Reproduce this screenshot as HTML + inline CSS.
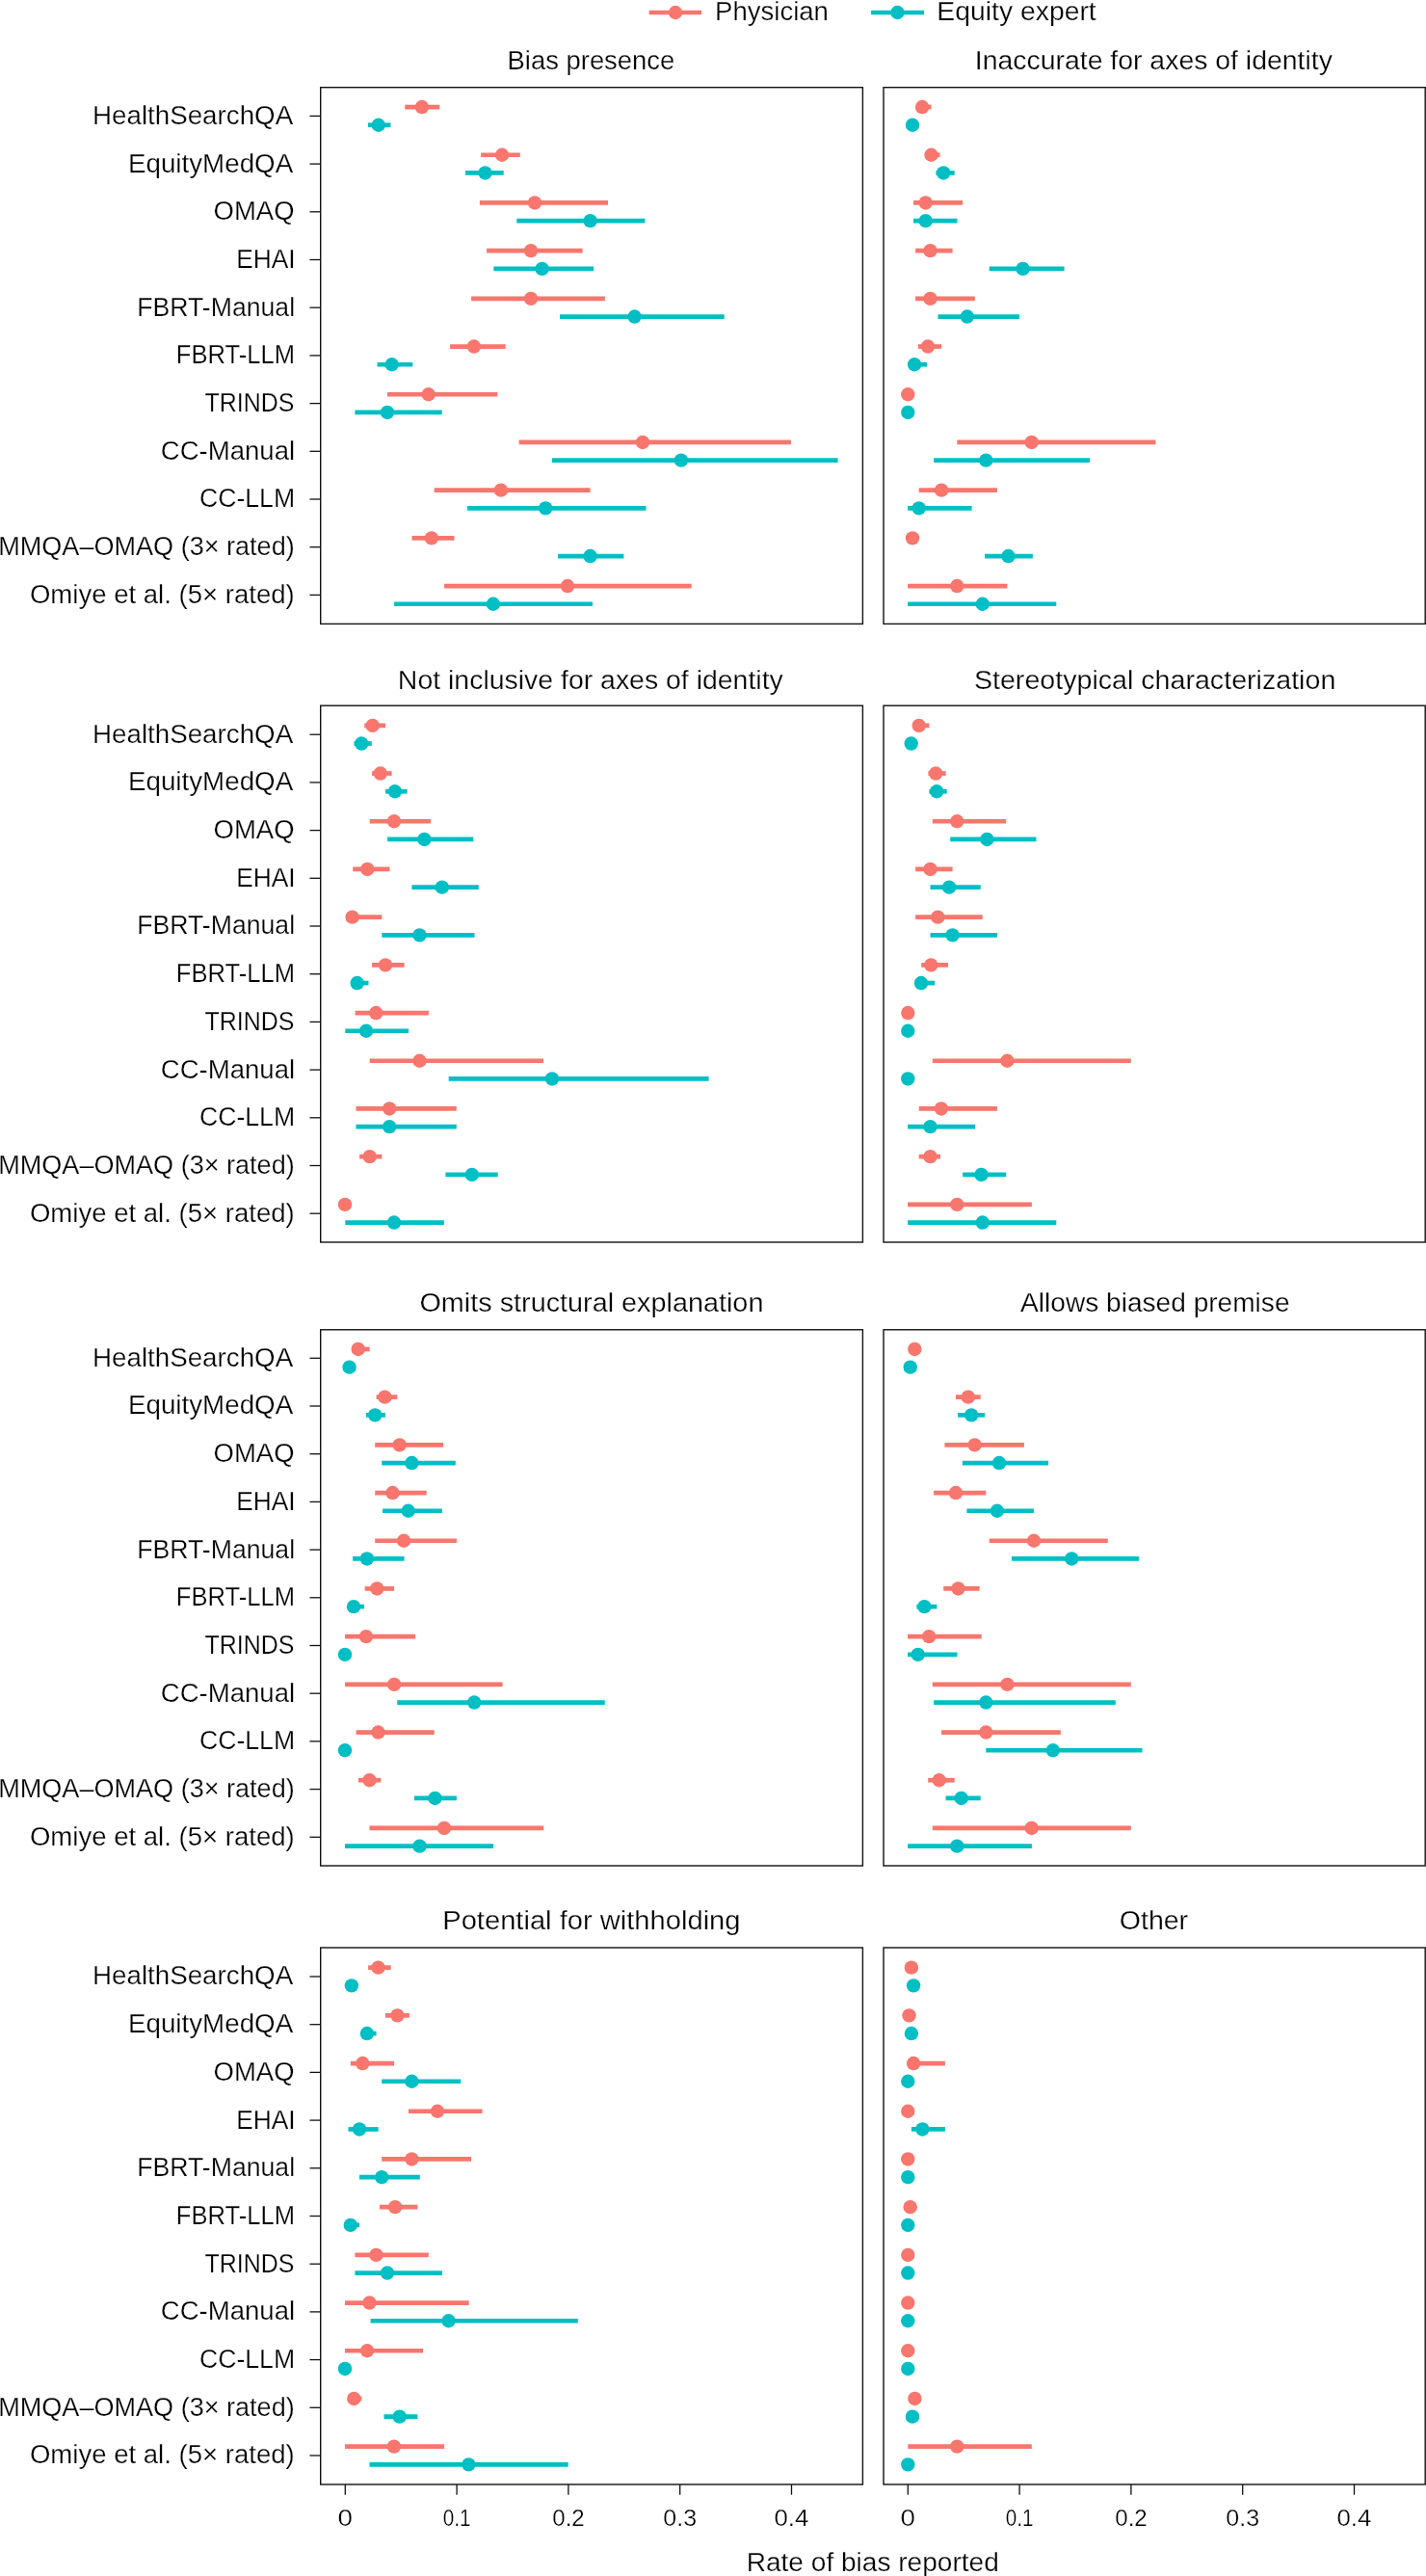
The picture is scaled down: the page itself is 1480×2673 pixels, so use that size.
<!DOCTYPE html>
<html><head><meta charset="utf-8"><style>
html,body{margin:0;padding:0;background:#fff;overflow:hidden;}
svg{display:block;will-change:transform;}
</style></head><body>
<svg width="1480" height="2673" viewBox="0 0 1480 2673" font-family="Liberation Sans, sans-serif" fill="#000">
<style>text{stroke:#fff;stroke-width:0.25px;paint-order:normal;}</style>
<rect width="1480" height="2673" fill="#fff"/>
<text x="742.05" y="21.00" font-size="27" textLength="117.90" lengthAdjust="spacingAndGlyphs">Physician</text>
<text x="972.39" y="21.00" font-size="27" textLength="165.32" lengthAdjust="spacingAndGlyphs">Equity expert</text>
<text x="526.56" y="72.30" font-size="27" textLength="173.75" lengthAdjust="spacingAndGlyphs">Bias presence</text>
<text x="1011.78" y="72.30" font-size="27" textLength="371.12" lengthAdjust="spacingAndGlyphs">Inaccurate for axes of identity</text>
<text x="412.88" y="714.70" font-size="27" textLength="399.92" lengthAdjust="spacingAndGlyphs">Not inclusive for axes of identity</text>
<text x="1010.91" y="714.70" font-size="27" textLength="375.40" lengthAdjust="spacingAndGlyphs">Stereotypical characterization</text>
<text x="435.45" y="1360.90" font-size="27" textLength="356.97" lengthAdjust="spacingAndGlyphs">Omits structural explanation</text>
<text x="1059.10" y="1360.90" font-size="27" textLength="279.44" lengthAdjust="spacingAndGlyphs">Allows biased premise</text>
<text x="459.22" y="2002.00" font-size="27" textLength="309.31" lengthAdjust="spacingAndGlyphs">Potential for withholding</text>
<text x="1161.76" y="2002.00" font-size="27" textLength="71.38" lengthAdjust="spacingAndGlyphs">Other</text>
<text x="96.03" y="128.80" font-size="27" textLength="208.13" lengthAdjust="spacingAndGlyphs">HealthSearchQA</text>
<text x="133.03" y="178.50" font-size="27" textLength="171.13" lengthAdjust="spacingAndGlyphs">EquityMedQA</text>
<text x="221.61" y="228.20" font-size="27" textLength="83.88" lengthAdjust="spacingAndGlyphs">OMAQ</text>
<text x="245.24" y="277.90" font-size="27" textLength="61.43" lengthAdjust="spacingAndGlyphs">EHAI</text>
<text x="142.22" y="327.60" font-size="27" textLength="163.84" lengthAdjust="spacingAndGlyphs">FBRT-Manual</text>
<text x="182.80" y="377.30" font-size="27" textLength="123.22" lengthAdjust="spacingAndGlyphs">FBRT-LLM</text>
<text x="212.51" y="427.00" font-size="27" textLength="92.84" lengthAdjust="spacingAndGlyphs">TRINDS</text>
<text x="166.81" y="476.70" font-size="27" textLength="139.31" lengthAdjust="spacingAndGlyphs">CC-Manual</text>
<text x="206.95" y="526.40" font-size="27" textLength="99.14" lengthAdjust="spacingAndGlyphs">CC-LLM</text>
<text x="-1.81" y="576.10" font-size="27" textLength="307.51" lengthAdjust="spacingAndGlyphs">MMQA–OMAQ (3× rated)</text>
<text x="30.91" y="625.80" font-size="27" textLength="274.82" lengthAdjust="spacingAndGlyphs">Omiye et al. (5× rated)</text>
<text x="96.03" y="770.60" font-size="27" textLength="208.13" lengthAdjust="spacingAndGlyphs">HealthSearchQA</text>
<text x="133.03" y="820.30" font-size="27" textLength="171.13" lengthAdjust="spacingAndGlyphs">EquityMedQA</text>
<text x="221.61" y="870.00" font-size="27" textLength="83.88" lengthAdjust="spacingAndGlyphs">OMAQ</text>
<text x="245.24" y="919.70" font-size="27" textLength="61.43" lengthAdjust="spacingAndGlyphs">EHAI</text>
<text x="142.22" y="969.40" font-size="27" textLength="163.84" lengthAdjust="spacingAndGlyphs">FBRT-Manual</text>
<text x="182.80" y="1019.10" font-size="27" textLength="123.22" lengthAdjust="spacingAndGlyphs">FBRT-LLM</text>
<text x="212.51" y="1068.80" font-size="27" textLength="92.84" lengthAdjust="spacingAndGlyphs">TRINDS</text>
<text x="166.81" y="1118.50" font-size="27" textLength="139.31" lengthAdjust="spacingAndGlyphs">CC-Manual</text>
<text x="206.95" y="1168.20" font-size="27" textLength="99.14" lengthAdjust="spacingAndGlyphs">CC-LLM</text>
<text x="-1.81" y="1217.90" font-size="27" textLength="307.51" lengthAdjust="spacingAndGlyphs">MMQA–OMAQ (3× rated)</text>
<text x="30.91" y="1267.60" font-size="27" textLength="274.82" lengthAdjust="spacingAndGlyphs">Omiye et al. (5× rated)</text>
<text x="96.03" y="1417.70" font-size="27" textLength="208.13" lengthAdjust="spacingAndGlyphs">HealthSearchQA</text>
<text x="133.03" y="1467.40" font-size="27" textLength="171.13" lengthAdjust="spacingAndGlyphs">EquityMedQA</text>
<text x="221.61" y="1517.10" font-size="27" textLength="83.88" lengthAdjust="spacingAndGlyphs">OMAQ</text>
<text x="245.24" y="1566.80" font-size="27" textLength="61.43" lengthAdjust="spacingAndGlyphs">EHAI</text>
<text x="142.22" y="1616.50" font-size="27" textLength="163.84" lengthAdjust="spacingAndGlyphs">FBRT-Manual</text>
<text x="182.80" y="1666.20" font-size="27" textLength="123.22" lengthAdjust="spacingAndGlyphs">FBRT-LLM</text>
<text x="212.51" y="1715.90" font-size="27" textLength="92.84" lengthAdjust="spacingAndGlyphs">TRINDS</text>
<text x="166.81" y="1765.60" font-size="27" textLength="139.31" lengthAdjust="spacingAndGlyphs">CC-Manual</text>
<text x="206.95" y="1815.30" font-size="27" textLength="99.14" lengthAdjust="spacingAndGlyphs">CC-LLM</text>
<text x="-1.81" y="1865.00" font-size="27" textLength="307.51" lengthAdjust="spacingAndGlyphs">MMQA–OMAQ (3× rated)</text>
<text x="30.91" y="1914.70" font-size="27" textLength="274.82" lengthAdjust="spacingAndGlyphs">Omiye et al. (5× rated)</text>
<text x="96.03" y="2059.40" font-size="27" textLength="208.13" lengthAdjust="spacingAndGlyphs">HealthSearchQA</text>
<text x="133.03" y="2109.10" font-size="27" textLength="171.13" lengthAdjust="spacingAndGlyphs">EquityMedQA</text>
<text x="221.61" y="2158.80" font-size="27" textLength="83.88" lengthAdjust="spacingAndGlyphs">OMAQ</text>
<text x="245.24" y="2208.50" font-size="27" textLength="61.43" lengthAdjust="spacingAndGlyphs">EHAI</text>
<text x="142.22" y="2258.20" font-size="27" textLength="163.84" lengthAdjust="spacingAndGlyphs">FBRT-Manual</text>
<text x="182.80" y="2307.90" font-size="27" textLength="123.22" lengthAdjust="spacingAndGlyphs">FBRT-LLM</text>
<text x="212.51" y="2357.60" font-size="27" textLength="92.84" lengthAdjust="spacingAndGlyphs">TRINDS</text>
<text x="166.81" y="2407.30" font-size="27" textLength="139.31" lengthAdjust="spacingAndGlyphs">CC-Manual</text>
<text x="206.95" y="2457.00" font-size="27" textLength="99.14" lengthAdjust="spacingAndGlyphs">CC-LLM</text>
<text x="-1.81" y="2506.70" font-size="27" textLength="307.51" lengthAdjust="spacingAndGlyphs">MMQA–OMAQ (3× rated)</text>
<text x="30.91" y="2556.40" font-size="27" textLength="274.82" lengthAdjust="spacingAndGlyphs">Omiye et al. (5× rated)</text>
<text x="350.63" y="2621.00" font-size="23" textLength="15.44" lengthAdjust="spacingAndGlyphs">0</text>
<text x="459.83" y="2621.00" font-size="23" textLength="28.80" lengthAdjust="spacingAndGlyphs">0.1</text>
<text x="573.31" y="2621.00" font-size="23" textLength="33.48" lengthAdjust="spacingAndGlyphs">0.2</text>
<text x="688.38" y="2621.00" font-size="23" textLength="34.85" lengthAdjust="spacingAndGlyphs">0.3</text>
<text x="803.45" y="2621.00" font-size="23" textLength="35.86" lengthAdjust="spacingAndGlyphs">0.4</text>
<text x="934.63" y="2621.00" font-size="23" textLength="15.44" lengthAdjust="spacingAndGlyphs">0</text>
<text x="1043.83" y="2621.00" font-size="23" textLength="28.80" lengthAdjust="spacingAndGlyphs">0.1</text>
<text x="1157.31" y="2621.00" font-size="23" textLength="33.48" lengthAdjust="spacingAndGlyphs">0.2</text>
<text x="1272.38" y="2621.00" font-size="23" textLength="34.85" lengthAdjust="spacingAndGlyphs">0.3</text>
<text x="1387.45" y="2621.00" font-size="23" textLength="35.86" lengthAdjust="spacingAndGlyphs">0.4</text>
<text x="774.71" y="2667.90" font-size="27" textLength="262.07" lengthAdjust="spacingAndGlyphs">Rate of bias reported</text>
<line x1="673.7" y1="13" x2="728" y2="13" stroke="#F8766D" stroke-width="4.7"/>
<circle cx="701" cy="13" r="7.2" fill="#F8766D"/>
<line x1="904.1" y1="13" x2="959" y2="13" stroke="#00BFC4" stroke-width="4.7"/>
<circle cx="931.4" cy="13" r="7.2" fill="#00BFC4"/>
<rect x="332.7" y="90.7" width="562.7" height="556.7" fill="none" stroke="#111" stroke-width="1.4"/>
<line x1="321.5" y1="120.4" x2="332.7" y2="120.4" stroke="#111" stroke-width="1.3"/>
<line x1="321.5" y1="170.1" x2="332.7" y2="170.1" stroke="#111" stroke-width="1.3"/>
<line x1="321.5" y1="219.8" x2="332.7" y2="219.8" stroke="#111" stroke-width="1.3"/>
<line x1="321.5" y1="269.5" x2="332.7" y2="269.5" stroke="#111" stroke-width="1.3"/>
<line x1="321.5" y1="319.2" x2="332.7" y2="319.2" stroke="#111" stroke-width="1.3"/>
<line x1="321.5" y1="368.9" x2="332.7" y2="368.9" stroke="#111" stroke-width="1.3"/>
<line x1="321.5" y1="418.6" x2="332.7" y2="418.6" stroke="#111" stroke-width="1.3"/>
<line x1="321.5" y1="468.3" x2="332.7" y2="468.3" stroke="#111" stroke-width="1.3"/>
<line x1="321.5" y1="518.0" x2="332.7" y2="518.0" stroke="#111" stroke-width="1.3"/>
<line x1="321.5" y1="567.7" x2="332.7" y2="567.7" stroke="#111" stroke-width="1.3"/>
<line x1="321.5" y1="617.4" x2="332.7" y2="617.4" stroke="#111" stroke-width="1.3"/>
<line x1="420.3" y1="111.05" x2="456.3" y2="111.05" stroke="#F8766D" stroke-width="4.7"/>
<circle cx="437.9" cy="111.05" r="7.2" fill="#F8766D"/>
<line x1="499.1" y1="160.75" x2="539.8" y2="160.75" stroke="#F8766D" stroke-width="4.7"/>
<circle cx="521.1" cy="160.75" r="7.2" fill="#F8766D"/>
<line x1="497.9" y1="210.45" x2="631.0" y2="210.45" stroke="#F8766D" stroke-width="4.7"/>
<circle cx="555.0" cy="210.45" r="7.2" fill="#F8766D"/>
<line x1="505.1" y1="260.15" x2="604.6" y2="260.15" stroke="#F8766D" stroke-width="4.7"/>
<circle cx="551.0" cy="260.15" r="7.2" fill="#F8766D"/>
<line x1="489.1" y1="309.85" x2="627.8" y2="309.85" stroke="#F8766D" stroke-width="4.7"/>
<circle cx="551.0" cy="309.85" r="7.2" fill="#F8766D"/>
<line x1="467.1" y1="359.55" x2="524.7" y2="359.55" stroke="#F8766D" stroke-width="4.7"/>
<circle cx="491.9" cy="359.55" r="7.2" fill="#F8766D"/>
<line x1="402.0" y1="409.25" x2="516.3" y2="409.25" stroke="#F8766D" stroke-width="4.7"/>
<circle cx="444.7" cy="409.25" r="7.2" fill="#F8766D"/>
<line x1="538.6" y1="458.95" x2="820.9" y2="458.95" stroke="#F8766D" stroke-width="4.7"/>
<circle cx="667.0" cy="458.95" r="7.2" fill="#F8766D"/>
<line x1="450.7" y1="508.65" x2="612.6" y2="508.65" stroke="#F8766D" stroke-width="4.7"/>
<circle cx="519.9" cy="508.65" r="7.2" fill="#F8766D"/>
<line x1="427.5" y1="558.35" x2="471.5" y2="558.35" stroke="#F8766D" stroke-width="4.7"/>
<circle cx="447.9" cy="558.35" r="7.2" fill="#F8766D"/>
<line x1="461.1" y1="608.05" x2="717.7" y2="608.05" stroke="#F8766D" stroke-width="4.7"/>
<circle cx="589.0" cy="608.05" r="7.2" fill="#F8766D"/>
<line x1="382.0" y1="129.75" x2="405.5" y2="129.75" stroke="#00BFC4" stroke-width="4.7"/>
<circle cx="392.8" cy="129.75" r="7.2" fill="#00BFC4"/>
<line x1="483.1" y1="179.45" x2="522.7" y2="179.45" stroke="#00BFC4" stroke-width="4.7"/>
<circle cx="503.5" cy="179.45" r="7.2" fill="#00BFC4"/>
<line x1="536.3" y1="229.15" x2="669.4" y2="229.15" stroke="#00BFC4" stroke-width="4.7"/>
<circle cx="612.6" cy="229.15" r="7.2" fill="#00BFC4"/>
<line x1="512.3" y1="278.85" x2="616.2" y2="278.85" stroke="#00BFC4" stroke-width="4.7"/>
<circle cx="562.6" cy="278.85" r="7.2" fill="#00BFC4"/>
<line x1="581.0" y1="328.55" x2="751.7" y2="328.55" stroke="#00BFC4" stroke-width="4.7"/>
<circle cx="658.6" cy="328.55" r="7.2" fill="#00BFC4"/>
<line x1="391.6" y1="378.25" x2="428.3" y2="378.25" stroke="#00BFC4" stroke-width="4.7"/>
<circle cx="406.7" cy="378.25" r="7.2" fill="#00BFC4"/>
<line x1="368.4" y1="427.95" x2="458.7" y2="427.95" stroke="#00BFC4" stroke-width="4.7"/>
<circle cx="402.0" cy="427.95" r="7.2" fill="#00BFC4"/>
<line x1="573.0" y1="477.65" x2="869.6" y2="477.65" stroke="#00BFC4" stroke-width="4.7"/>
<circle cx="706.9" cy="477.65" r="7.2" fill="#00BFC4"/>
<line x1="485.1" y1="527.35" x2="670.6" y2="527.35" stroke="#00BFC4" stroke-width="4.7"/>
<circle cx="566.2" cy="527.35" r="7.2" fill="#00BFC4"/>
<line x1="579.0" y1="577.05" x2="647.4" y2="577.05" stroke="#00BFC4" stroke-width="4.7"/>
<circle cx="612.6" cy="577.05" r="7.2" fill="#00BFC4"/>
<line x1="409.1" y1="626.75" x2="615.0" y2="626.75" stroke="#00BFC4" stroke-width="4.7"/>
<circle cx="511.9" cy="626.75" r="7.2" fill="#00BFC4"/>
<rect x="917.0" y="90.7" width="562.2" height="556.7" fill="none" stroke="#111" stroke-width="1.4"/>
<line x1="952" y1="111.05" x2="966.5" y2="111.05" stroke="#F8766D" stroke-width="4.7"/>
<circle cx="957.1" cy="111.05" r="7.2" fill="#F8766D"/>
<line x1="960" y1="160.75" x2="975.6" y2="160.75" stroke="#F8766D" stroke-width="4.7"/>
<circle cx="966.5" cy="160.75" r="7.2" fill="#F8766D"/>
<line x1="948.0" y1="210.45" x2="999.2" y2="210.45" stroke="#F8766D" stroke-width="4.7"/>
<circle cx="960.7" cy="210.45" r="7.2" fill="#F8766D"/>
<line x1="950.1" y1="260.15" x2="988.6" y2="260.15" stroke="#F8766D" stroke-width="4.7"/>
<circle cx="965.5" cy="260.15" r="7.2" fill="#F8766D"/>
<line x1="950.1" y1="309.85" x2="1011.8" y2="309.85" stroke="#F8766D" stroke-width="4.7"/>
<circle cx="965.5" cy="309.85" r="7.2" fill="#F8766D"/>
<line x1="952.9" y1="359.55" x2="977.1" y2="359.55" stroke="#F8766D" stroke-width="4.7"/>
<circle cx="963.0" cy="359.55" r="7.2" fill="#F8766D"/>
<circle cx="942.3" cy="409.25" r="7.2" fill="#F8766D"/>
<line x1="993.3" y1="458.95" x2="1199.4" y2="458.95" stroke="#F8766D" stroke-width="4.7"/>
<circle cx="1070.7" cy="458.95" r="7.2" fill="#F8766D"/>
<line x1="953.7" y1="508.65" x2="1034.9" y2="508.65" stroke="#F8766D" stroke-width="4.7"/>
<circle cx="977.1" cy="508.65" r="7.2" fill="#F8766D"/>
<circle cx="947.0" cy="558.35" r="7.2" fill="#F8766D"/>
<line x1="942.1" y1="608.05" x2="1045.4" y2="608.05" stroke="#F8766D" stroke-width="4.7"/>
<circle cx="993.3" cy="608.05" r="7.2" fill="#F8766D"/>
<circle cx="947.0" cy="129.75" r="7.2" fill="#00BFC4"/>
<line x1="971.4" y1="179.45" x2="990.7" y2="179.45" stroke="#00BFC4" stroke-width="4.7"/>
<circle cx="979.2" cy="179.45" r="7.2" fill="#00BFC4"/>
<line x1="948.0" y1="229.15" x2="993.5" y2="229.15" stroke="#00BFC4" stroke-width="4.7"/>
<circle cx="960.7" cy="229.15" r="7.2" fill="#00BFC4"/>
<line x1="1026.7" y1="278.85" x2="1104.6" y2="278.85" stroke="#00BFC4" stroke-width="4.7"/>
<circle cx="1061.6" cy="278.85" r="7.2" fill="#00BFC4"/>
<line x1="973.5" y1="328.55" x2="1058.1" y2="328.55" stroke="#00BFC4" stroke-width="4.7"/>
<circle cx="1003.8" cy="328.55" r="7.2" fill="#00BFC4"/>
<line x1="945" y1="378.25" x2="962.1" y2="378.25" stroke="#00BFC4" stroke-width="4.7"/>
<circle cx="949.1" cy="378.25" r="7.2" fill="#00BFC4"/>
<circle cx="942.3" cy="427.95" r="7.2" fill="#00BFC4"/>
<line x1="969.1" y1="477.65" x2="1131.1" y2="477.65" stroke="#00BFC4" stroke-width="4.7"/>
<circle cx="1023.3" cy="477.65" r="7.2" fill="#00BFC4"/>
<line x1="942.1" y1="527.35" x2="1008.6" y2="527.35" stroke="#00BFC4" stroke-width="4.7"/>
<circle cx="953.7" cy="527.35" r="7.2" fill="#00BFC4"/>
<line x1="1022.1" y1="577.05" x2="1071.9" y2="577.05" stroke="#00BFC4" stroke-width="4.7"/>
<circle cx="1046.5" cy="577.05" r="7.2" fill="#00BFC4"/>
<line x1="942.1" y1="626.75" x2="1096.3" y2="626.75" stroke="#00BFC4" stroke-width="4.7"/>
<circle cx="1019.8" cy="626.75" r="7.2" fill="#00BFC4"/>
<rect x="332.7" y="732.2" width="562.7" height="556.8" fill="none" stroke="#111" stroke-width="1.4"/>
<line x1="321.5" y1="762.2" x2="332.7" y2="762.2" stroke="#111" stroke-width="1.3"/>
<line x1="321.5" y1="811.9" x2="332.7" y2="811.9" stroke="#111" stroke-width="1.3"/>
<line x1="321.5" y1="861.6" x2="332.7" y2="861.6" stroke="#111" stroke-width="1.3"/>
<line x1="321.5" y1="911.3" x2="332.7" y2="911.3" stroke="#111" stroke-width="1.3"/>
<line x1="321.5" y1="961.0" x2="332.7" y2="961.0" stroke="#111" stroke-width="1.3"/>
<line x1="321.5" y1="1010.7" x2="332.7" y2="1010.7" stroke="#111" stroke-width="1.3"/>
<line x1="321.5" y1="1060.4" x2="332.7" y2="1060.4" stroke="#111" stroke-width="1.3"/>
<line x1="321.5" y1="1110.1" x2="332.7" y2="1110.1" stroke="#111" stroke-width="1.3"/>
<line x1="321.5" y1="1159.8" x2="332.7" y2="1159.8" stroke="#111" stroke-width="1.3"/>
<line x1="321.5" y1="1209.5" x2="332.7" y2="1209.5" stroke="#111" stroke-width="1.3"/>
<line x1="321.5" y1="1259.2" x2="332.7" y2="1259.2" stroke="#111" stroke-width="1.3"/>
<line x1="378.2" y1="752.85" x2="400.0" y2="752.85" stroke="#F8766D" stroke-width="4.7"/>
<circle cx="386.7" cy="752.85" r="7.2" fill="#F8766D"/>
<line x1="386.1" y1="802.55" x2="406.6" y2="802.55" stroke="#F8766D" stroke-width="4.7"/>
<circle cx="394.8" cy="802.55" r="7.2" fill="#F8766D"/>
<line x1="383.7" y1="852.25" x2="447.0" y2="852.25" stroke="#F8766D" stroke-width="4.7"/>
<circle cx="409.0" cy="852.25" r="7.2" fill="#F8766D"/>
<line x1="366.2" y1="901.95" x2="404.5" y2="901.95" stroke="#F8766D" stroke-width="4.7"/>
<circle cx="381.3" cy="901.95" r="7.2" fill="#F8766D"/>
<line x1="360" y1="951.65" x2="396.3" y2="951.65" stroke="#F8766D" stroke-width="4.7"/>
<circle cx="365.6" cy="951.65" r="7.2" fill="#F8766D"/>
<line x1="386.1" y1="1001.35" x2="419.6" y2="1001.35" stroke="#F8766D" stroke-width="4.7"/>
<circle cx="400.0" cy="1001.35" r="7.2" fill="#F8766D"/>
<line x1="368.6" y1="1051.05" x2="444.9" y2="1051.05" stroke="#F8766D" stroke-width="4.7"/>
<circle cx="390.3" cy="1051.05" r="7.2" fill="#F8766D"/>
<line x1="383.7" y1="1100.75" x2="564.0" y2="1100.75" stroke="#F8766D" stroke-width="4.7"/>
<circle cx="435.5" cy="1100.75" r="7.2" fill="#F8766D"/>
<line x1="369.5" y1="1150.45" x2="473.8" y2="1150.45" stroke="#F8766D" stroke-width="4.7"/>
<circle cx="404.2" cy="1150.45" r="7.2" fill="#F8766D"/>
<line x1="373.1" y1="1200.15" x2="396.3" y2="1200.15" stroke="#F8766D" stroke-width="4.7"/>
<circle cx="383.7" cy="1200.15" r="7.2" fill="#F8766D"/>
<circle cx="358.0" cy="1249.85" r="7.2" fill="#F8766D"/>
<line x1="367.4" y1="771.55" x2="385.8" y2="771.55" stroke="#00BFC4" stroke-width="4.7"/>
<circle cx="375.2" cy="771.55" r="7.2" fill="#00BFC4"/>
<line x1="400.0" y1="821.25" x2="422.6" y2="821.25" stroke="#00BFC4" stroke-width="4.7"/>
<circle cx="409.9" cy="821.25" r="7.2" fill="#00BFC4"/>
<line x1="402.1" y1="870.95" x2="491.3" y2="870.95" stroke="#00BFC4" stroke-width="4.7"/>
<circle cx="440.4" cy="870.95" r="7.2" fill="#00BFC4"/>
<line x1="427.4" y1="920.65" x2="496.8" y2="920.65" stroke="#00BFC4" stroke-width="4.7"/>
<circle cx="458.8" cy="920.65" r="7.2" fill="#00BFC4"/>
<line x1="396.3" y1="970.35" x2="492.5" y2="970.35" stroke="#00BFC4" stroke-width="4.7"/>
<circle cx="435.5" cy="970.35" r="7.2" fill="#00BFC4"/>
<line x1="365" y1="1020.05" x2="382.5" y2="1020.05" stroke="#00BFC4" stroke-width="4.7"/>
<circle cx="370.7" cy="1020.05" r="7.2" fill="#00BFC4"/>
<line x1="358.3" y1="1069.75" x2="424.1" y2="1069.75" stroke="#00BFC4" stroke-width="4.7"/>
<circle cx="380.1" cy="1069.75" r="7.2" fill="#00BFC4"/>
<line x1="465.7" y1="1119.45" x2="735.6" y2="1119.45" stroke="#00BFC4" stroke-width="4.7"/>
<circle cx="573.0" cy="1119.45" r="7.2" fill="#00BFC4"/>
<line x1="369.5" y1="1169.15" x2="473.8" y2="1169.15" stroke="#00BFC4" stroke-width="4.7"/>
<circle cx="404.2" cy="1169.15" r="7.2" fill="#00BFC4"/>
<line x1="462.4" y1="1218.85" x2="516.7" y2="1218.85" stroke="#00BFC4" stroke-width="4.7"/>
<circle cx="489.8" cy="1218.85" r="7.2" fill="#00BFC4"/>
<line x1="358.3" y1="1268.55" x2="460.9" y2="1268.55" stroke="#00BFC4" stroke-width="4.7"/>
<circle cx="409.0" cy="1268.55" r="7.2" fill="#00BFC4"/>
<rect x="917.0" y="732.2" width="562.2" height="556.8" fill="none" stroke="#111" stroke-width="1.4"/>
<line x1="948" y1="752.85" x2="964.4" y2="752.85" stroke="#F8766D" stroke-width="4.7"/>
<circle cx="953.7" cy="752.85" r="7.2" fill="#F8766D"/>
<line x1="963.4" y1="802.55" x2="981.7" y2="802.55" stroke="#F8766D" stroke-width="4.7"/>
<circle cx="971.2" cy="802.55" r="7.2" fill="#F8766D"/>
<line x1="967.8" y1="852.25" x2="1044.2" y2="852.25" stroke="#F8766D" stroke-width="4.7"/>
<circle cx="993.3" cy="852.25" r="7.2" fill="#F8766D"/>
<line x1="950.1" y1="901.95" x2="988.6" y2="901.95" stroke="#F8766D" stroke-width="4.7"/>
<circle cx="965.5" cy="901.95" r="7.2" fill="#F8766D"/>
<line x1="950.1" y1="951.65" x2="1019.8" y2="951.65" stroke="#F8766D" stroke-width="4.7"/>
<circle cx="973.3" cy="951.65" r="7.2" fill="#F8766D"/>
<line x1="956.2" y1="1001.35" x2="984.0" y2="1001.35" stroke="#F8766D" stroke-width="4.7"/>
<circle cx="966.3" cy="1001.35" r="7.2" fill="#F8766D"/>
<circle cx="942.3" cy="1051.05" r="7.2" fill="#F8766D"/>
<line x1="967.8" y1="1100.75" x2="1173.8" y2="1100.75" stroke="#F8766D" stroke-width="4.7"/>
<circle cx="1045.4" cy="1100.75" r="7.2" fill="#F8766D"/>
<line x1="953.7" y1="1150.45" x2="1034.9" y2="1150.45" stroke="#F8766D" stroke-width="4.7"/>
<circle cx="976.9" cy="1150.45" r="7.2" fill="#F8766D"/>
<line x1="953.7" y1="1200.15" x2="976.0" y2="1200.15" stroke="#F8766D" stroke-width="4.7"/>
<circle cx="965.5" cy="1200.15" r="7.2" fill="#F8766D"/>
<line x1="942.1" y1="1249.85" x2="1070.9" y2="1249.85" stroke="#F8766D" stroke-width="4.7"/>
<circle cx="993.3" cy="1249.85" r="7.2" fill="#F8766D"/>
<circle cx="945.7" cy="771.55" r="7.2" fill="#00BFC4"/>
<line x1="964.4" y1="821.25" x2="982.7" y2="821.25" stroke="#00BFC4" stroke-width="4.7"/>
<circle cx="972.2" cy="821.25" r="7.2" fill="#00BFC4"/>
<line x1="986.3" y1="870.95" x2="1075.5" y2="870.95" stroke="#00BFC4" stroke-width="4.7"/>
<circle cx="1024.4" cy="870.95" r="7.2" fill="#00BFC4"/>
<line x1="965.5" y1="920.65" x2="1017.7" y2="920.65" stroke="#00BFC4" stroke-width="4.7"/>
<circle cx="985.1" cy="920.65" r="7.2" fill="#00BFC4"/>
<line x1="965.5" y1="970.35" x2="1034.9" y2="970.35" stroke="#00BFC4" stroke-width="4.7"/>
<circle cx="988.6" cy="970.35" r="7.2" fill="#00BFC4"/>
<line x1="950" y1="1020.05" x2="970.1" y2="1020.05" stroke="#00BFC4" stroke-width="4.7"/>
<circle cx="956.0" cy="1020.05" r="7.2" fill="#00BFC4"/>
<circle cx="942.3" cy="1069.75" r="7.2" fill="#00BFC4"/>
<circle cx="942.3" cy="1119.45" r="7.2" fill="#00BFC4"/>
<line x1="942.1" y1="1169.15" x2="1012.0" y2="1169.15" stroke="#00BFC4" stroke-width="4.7"/>
<circle cx="965.5" cy="1169.15" r="7.2" fill="#00BFC4"/>
<line x1="999.2" y1="1218.85" x2="1044.2" y2="1218.85" stroke="#00BFC4" stroke-width="4.7"/>
<circle cx="1018.5" cy="1218.85" r="7.2" fill="#00BFC4"/>
<line x1="942.1" y1="1268.55" x2="1096.3" y2="1268.55" stroke="#00BFC4" stroke-width="4.7"/>
<circle cx="1019.8" cy="1268.55" r="7.2" fill="#00BFC4"/>
<rect x="332.7" y="1379.8" width="562.7" height="556.2" fill="none" stroke="#111" stroke-width="1.4"/>
<line x1="321.5" y1="1409.3" x2="332.7" y2="1409.3" stroke="#111" stroke-width="1.3"/>
<line x1="321.5" y1="1459.0" x2="332.7" y2="1459.0" stroke="#111" stroke-width="1.3"/>
<line x1="321.5" y1="1508.7" x2="332.7" y2="1508.7" stroke="#111" stroke-width="1.3"/>
<line x1="321.5" y1="1558.4" x2="332.7" y2="1558.4" stroke="#111" stroke-width="1.3"/>
<line x1="321.5" y1="1608.1" x2="332.7" y2="1608.1" stroke="#111" stroke-width="1.3"/>
<line x1="321.5" y1="1657.8" x2="332.7" y2="1657.8" stroke="#111" stroke-width="1.3"/>
<line x1="321.5" y1="1707.5" x2="332.7" y2="1707.5" stroke="#111" stroke-width="1.3"/>
<line x1="321.5" y1="1757.2" x2="332.7" y2="1757.2" stroke="#111" stroke-width="1.3"/>
<line x1="321.5" y1="1806.9" x2="332.7" y2="1806.9" stroke="#111" stroke-width="1.3"/>
<line x1="321.5" y1="1856.6" x2="332.7" y2="1856.6" stroke="#111" stroke-width="1.3"/>
<line x1="321.5" y1="1906.3" x2="332.7" y2="1906.3" stroke="#111" stroke-width="1.3"/>
<line x1="366" y1="1399.95" x2="383.7" y2="1399.95" stroke="#F8766D" stroke-width="4.7"/>
<circle cx="371.7" cy="1399.95" r="7.2" fill="#F8766D"/>
<line x1="390.6" y1="1449.65" x2="412.4" y2="1449.65" stroke="#F8766D" stroke-width="4.7"/>
<circle cx="399.4" cy="1449.65" r="7.2" fill="#F8766D"/>
<line x1="389.2" y1="1499.35" x2="460.1" y2="1499.35" stroke="#F8766D" stroke-width="4.7"/>
<circle cx="414.7" cy="1499.35" r="7.2" fill="#F8766D"/>
<line x1="389.2" y1="1549.05" x2="442.7" y2="1549.05" stroke="#F8766D" stroke-width="4.7"/>
<circle cx="407.5" cy="1549.05" r="7.2" fill="#F8766D"/>
<line x1="389.2" y1="1598.75" x2="473.9" y2="1598.75" stroke="#F8766D" stroke-width="4.7"/>
<circle cx="419.1" cy="1598.75" r="7.2" fill="#F8766D"/>
<line x1="378.6" y1="1648.45" x2="409.1" y2="1648.45" stroke="#F8766D" stroke-width="4.7"/>
<circle cx="391.3" cy="1648.45" r="7.2" fill="#F8766D"/>
<line x1="358.0" y1="1698.15" x2="431.1" y2="1698.15" stroke="#F8766D" stroke-width="4.7"/>
<circle cx="380.0" cy="1698.15" r="7.2" fill="#F8766D"/>
<line x1="358.0" y1="1747.85" x2="521.6" y2="1747.85" stroke="#F8766D" stroke-width="4.7"/>
<circle cx="409.1" cy="1747.85" r="7.2" fill="#F8766D"/>
<line x1="369.6" y1="1797.55" x2="450.8" y2="1797.55" stroke="#F8766D" stroke-width="4.7"/>
<circle cx="392.5" cy="1797.55" r="7.2" fill="#F8766D"/>
<line x1="371.9" y1="1847.25" x2="395.3" y2="1847.25" stroke="#F8766D" stroke-width="4.7"/>
<circle cx="383.5" cy="1847.25" r="7.2" fill="#F8766D"/>
<line x1="383.5" y1="1896.95" x2="564.2" y2="1896.95" stroke="#F8766D" stroke-width="4.7"/>
<circle cx="461.0" cy="1896.95" r="7.2" fill="#F8766D"/>
<circle cx="362.6" cy="1418.65" r="7.2" fill="#00BFC4"/>
<line x1="380.0" y1="1468.35" x2="399.9" y2="1468.35" stroke="#00BFC4" stroke-width="4.7"/>
<circle cx="389.2" cy="1468.35" r="7.2" fill="#00BFC4"/>
<line x1="396.2" y1="1518.05" x2="472.8" y2="1518.05" stroke="#00BFC4" stroke-width="4.7"/>
<circle cx="427.4" cy="1518.05" r="7.2" fill="#00BFC4"/>
<line x1="397.1" y1="1567.75" x2="458.9" y2="1567.75" stroke="#00BFC4" stroke-width="4.7"/>
<circle cx="423.7" cy="1567.75" r="7.2" fill="#00BFC4"/>
<line x1="366.1" y1="1617.45" x2="419.6" y2="1617.45" stroke="#00BFC4" stroke-width="4.7"/>
<circle cx="380.9" cy="1617.45" r="7.2" fill="#00BFC4"/>
<line x1="362" y1="1667.15" x2="377.9" y2="1667.15" stroke="#00BFC4" stroke-width="4.7"/>
<circle cx="367.0" cy="1667.15" r="7.2" fill="#00BFC4"/>
<circle cx="358.0" cy="1716.85" r="7.2" fill="#00BFC4"/>
<line x1="412.2" y1="1766.55" x2="627.8" y2="1766.55" stroke="#00BFC4" stroke-width="4.7"/>
<circle cx="492.2" cy="1766.55" r="7.2" fill="#00BFC4"/>
<circle cx="358.0" cy="1816.25" r="7.2" fill="#00BFC4"/>
<line x1="430.0" y1="1865.95" x2="473.9" y2="1865.95" stroke="#00BFC4" stroke-width="4.7"/>
<circle cx="451.5" cy="1865.95" r="7.2" fill="#00BFC4"/>
<line x1="358.0" y1="1915.65" x2="512.1" y2="1915.65" stroke="#00BFC4" stroke-width="4.7"/>
<circle cx="435.5" cy="1915.65" r="7.2" fill="#00BFC4"/>
<rect x="917.0" y="1379.8" width="562.2" height="556.2" fill="none" stroke="#111" stroke-width="1.4"/>
<circle cx="949.3" cy="1399.95" r="7.2" fill="#F8766D"/>
<line x1="992.0" y1="1449.65" x2="1017.7" y2="1449.65" stroke="#F8766D" stroke-width="4.7"/>
<circle cx="1004.8" cy="1449.65" r="7.2" fill="#F8766D"/>
<line x1="980.4" y1="1499.35" x2="1062.9" y2="1499.35" stroke="#F8766D" stroke-width="4.7"/>
<circle cx="1011.6" cy="1499.35" r="7.2" fill="#F8766D"/>
<line x1="969.1" y1="1549.05" x2="1023.3" y2="1549.05" stroke="#F8766D" stroke-width="4.7"/>
<circle cx="992.0" cy="1549.05" r="7.2" fill="#F8766D"/>
<line x1="1026.7" y1="1598.75" x2="1149.8" y2="1598.75" stroke="#F8766D" stroke-width="4.7"/>
<circle cx="1073.0" cy="1598.75" r="7.2" fill="#F8766D"/>
<line x1="979.2" y1="1648.45" x2="1016.6" y2="1648.45" stroke="#F8766D" stroke-width="4.7"/>
<circle cx="994.5" cy="1648.45" r="7.2" fill="#F8766D"/>
<line x1="942.1" y1="1698.15" x2="1018.7" y2="1698.15" stroke="#F8766D" stroke-width="4.7"/>
<circle cx="964.2" cy="1698.15" r="7.2" fill="#F8766D"/>
<line x1="967.8" y1="1747.85" x2="1173.8" y2="1747.85" stroke="#F8766D" stroke-width="4.7"/>
<circle cx="1045.4" cy="1747.85" r="7.2" fill="#F8766D"/>
<line x1="977.1" y1="1797.55" x2="1100.8" y2="1797.55" stroke="#F8766D" stroke-width="4.7"/>
<circle cx="1023.3" cy="1797.55" r="7.2" fill="#F8766D"/>
<line x1="963.2" y1="1847.25" x2="990.7" y2="1847.25" stroke="#F8766D" stroke-width="4.7"/>
<circle cx="974.7" cy="1847.25" r="7.2" fill="#F8766D"/>
<line x1="967.8" y1="1896.95" x2="1173.8" y2="1896.95" stroke="#F8766D" stroke-width="4.7"/>
<circle cx="1070.7" cy="1896.95" r="7.2" fill="#F8766D"/>
<circle cx="944.7" cy="1418.65" r="7.2" fill="#00BFC4"/>
<line x1="994.1" y1="1468.35" x2="1022.1" y2="1468.35" stroke="#00BFC4" stroke-width="4.7"/>
<circle cx="1008.2" cy="1468.35" r="7.2" fill="#00BFC4"/>
<line x1="998.9" y1="1518.05" x2="1088.1" y2="1518.05" stroke="#00BFC4" stroke-width="4.7"/>
<circle cx="1037.0" cy="1518.05" r="7.2" fill="#00BFC4"/>
<line x1="1003.4" y1="1567.75" x2="1073.0" y2="1567.75" stroke="#00BFC4" stroke-width="4.7"/>
<circle cx="1034.9" cy="1567.75" r="7.2" fill="#00BFC4"/>
<line x1="1049.9" y1="1617.45" x2="1182.0" y2="1617.45" stroke="#00BFC4" stroke-width="4.7"/>
<circle cx="1112.3" cy="1617.45" r="7.2" fill="#00BFC4"/>
<line x1="951.4" y1="1667.15" x2="972.4" y2="1667.15" stroke="#00BFC4" stroke-width="4.7"/>
<circle cx="959.4" cy="1667.15" r="7.2" fill="#00BFC4"/>
<line x1="942.1" y1="1716.85" x2="993.5" y2="1716.85" stroke="#00BFC4" stroke-width="4.7"/>
<circle cx="952.7" cy="1716.85" r="7.2" fill="#00BFC4"/>
<line x1="969.1" y1="1766.55" x2="1157.8" y2="1766.55" stroke="#00BFC4" stroke-width="4.7"/>
<circle cx="1023.3" cy="1766.55" r="7.2" fill="#00BFC4"/>
<line x1="1023.3" y1="1816.25" x2="1185.5" y2="1816.25" stroke="#00BFC4" stroke-width="4.7"/>
<circle cx="1092.8" cy="1816.25" r="7.2" fill="#00BFC4"/>
<line x1="981.5" y1="1865.95" x2="1017.7" y2="1865.95" stroke="#00BFC4" stroke-width="4.7"/>
<circle cx="997.7" cy="1865.95" r="7.2" fill="#00BFC4"/>
<line x1="942.1" y1="1915.65" x2="1070.9" y2="1915.65" stroke="#00BFC4" stroke-width="4.7"/>
<circle cx="993.3" cy="1915.65" r="7.2" fill="#00BFC4"/>
<rect x="332.7" y="2021.0" width="562.7" height="557.0" fill="none" stroke="#111" stroke-width="1.4"/>
<line x1="321.5" y1="2051.0" x2="332.7" y2="2051.0" stroke="#111" stroke-width="1.3"/>
<line x1="321.5" y1="2100.7" x2="332.7" y2="2100.7" stroke="#111" stroke-width="1.3"/>
<line x1="321.5" y1="2150.4" x2="332.7" y2="2150.4" stroke="#111" stroke-width="1.3"/>
<line x1="321.5" y1="2200.1" x2="332.7" y2="2200.1" stroke="#111" stroke-width="1.3"/>
<line x1="321.5" y1="2249.8" x2="332.7" y2="2249.8" stroke="#111" stroke-width="1.3"/>
<line x1="321.5" y1="2299.5" x2="332.7" y2="2299.5" stroke="#111" stroke-width="1.3"/>
<line x1="321.5" y1="2349.2" x2="332.7" y2="2349.2" stroke="#111" stroke-width="1.3"/>
<line x1="321.5" y1="2398.9" x2="332.7" y2="2398.9" stroke="#111" stroke-width="1.3"/>
<line x1="321.5" y1="2448.6" x2="332.7" y2="2448.6" stroke="#111" stroke-width="1.3"/>
<line x1="321.5" y1="2498.3" x2="332.7" y2="2498.3" stroke="#111" stroke-width="1.3"/>
<line x1="321.5" y1="2548.0" x2="332.7" y2="2548.0" stroke="#111" stroke-width="1.3"/>
<line x1="382.1" y1="2041.65" x2="405.7" y2="2041.65" stroke="#F8766D" stroke-width="4.7"/>
<circle cx="392.5" cy="2041.65" r="7.2" fill="#F8766D"/>
<line x1="399.9" y1="2091.35" x2="424.9" y2="2091.35" stroke="#F8766D" stroke-width="4.7"/>
<circle cx="412.4" cy="2091.35" r="7.2" fill="#F8766D"/>
<line x1="363.8" y1="2141.05" x2="409.1" y2="2141.05" stroke="#F8766D" stroke-width="4.7"/>
<circle cx="376.3" cy="2141.05" r="7.2" fill="#F8766D"/>
<line x1="424.0" y1="2190.75" x2="500.6" y2="2190.75" stroke="#F8766D" stroke-width="4.7"/>
<circle cx="454.0" cy="2190.75" r="7.2" fill="#F8766D"/>
<line x1="396.2" y1="2240.45" x2="489.0" y2="2240.45" stroke="#F8766D" stroke-width="4.7"/>
<circle cx="427.4" cy="2240.45" r="7.2" fill="#F8766D"/>
<line x1="393.9" y1="2290.15" x2="433.4" y2="2290.15" stroke="#F8766D" stroke-width="4.7"/>
<circle cx="410.1" cy="2290.15" r="7.2" fill="#F8766D"/>
<line x1="368.4" y1="2339.85" x2="444.8" y2="2339.85" stroke="#F8766D" stroke-width="4.7"/>
<circle cx="390.4" cy="2339.85" r="7.2" fill="#F8766D"/>
<line x1="358.0" y1="2389.55" x2="486.7" y2="2389.55" stroke="#F8766D" stroke-width="4.7"/>
<circle cx="383.5" cy="2389.55" r="7.2" fill="#F8766D"/>
<line x1="358.0" y1="2439.25" x2="439.0" y2="2439.25" stroke="#F8766D" stroke-width="4.7"/>
<circle cx="381.1" cy="2439.25" r="7.2" fill="#F8766D"/>
<line x1="362" y1="2488.95" x2="375.4" y2="2488.95" stroke="#F8766D" stroke-width="4.7"/>
<circle cx="367.3" cy="2488.95" r="7.2" fill="#F8766D"/>
<line x1="358.0" y1="2538.65" x2="461.0" y2="2538.65" stroke="#F8766D" stroke-width="4.7"/>
<circle cx="408.9" cy="2538.65" r="7.2" fill="#F8766D"/>
<circle cx="364.9" cy="2060.35" r="7.2" fill="#00BFC4"/>
<line x1="375" y1="2110.05" x2="390.6" y2="2110.05" stroke="#00BFC4" stroke-width="4.7"/>
<circle cx="380.9" cy="2110.05" r="7.2" fill="#00BFC4"/>
<line x1="396.2" y1="2159.75" x2="478.3" y2="2159.75" stroke="#00BFC4" stroke-width="4.7"/>
<circle cx="427.4" cy="2159.75" r="7.2" fill="#00BFC4"/>
<line x1="361.5" y1="2209.45" x2="392.7" y2="2209.45" stroke="#00BFC4" stroke-width="4.7"/>
<circle cx="373.0" cy="2209.45" r="7.2" fill="#00BFC4"/>
<line x1="373.0" y1="2259.15" x2="435.8" y2="2259.15" stroke="#00BFC4" stroke-width="4.7"/>
<circle cx="396.2" cy="2259.15" r="7.2" fill="#00BFC4"/>
<line x1="358" y1="2308.85" x2="373.0" y2="2308.85" stroke="#00BFC4" stroke-width="4.7"/>
<circle cx="363.8" cy="2308.85" r="7.2" fill="#00BFC4"/>
<line x1="368.4" y1="2358.55" x2="458.9" y2="2358.55" stroke="#00BFC4" stroke-width="4.7"/>
<circle cx="402.0" cy="2358.55" r="7.2" fill="#00BFC4"/>
<line x1="384.6" y1="2408.25" x2="599.8" y2="2408.25" stroke="#00BFC4" stroke-width="4.7"/>
<circle cx="465.6" cy="2408.25" r="7.2" fill="#00BFC4"/>
<circle cx="358.0" cy="2457.95" r="7.2" fill="#00BFC4"/>
<line x1="398.5" y1="2507.65" x2="433.4" y2="2507.65" stroke="#00BFC4" stroke-width="4.7"/>
<circle cx="414.7" cy="2507.65" r="7.2" fill="#00BFC4"/>
<line x1="383.5" y1="2557.35" x2="589.7" y2="2557.35" stroke="#00BFC4" stroke-width="4.7"/>
<circle cx="486.4" cy="2557.35" r="7.2" fill="#00BFC4"/>
<rect x="917.0" y="2021.0" width="562.2" height="557.0" fill="none" stroke="#111" stroke-width="1.4"/>
<circle cx="945.9" cy="2041.65" r="7.2" fill="#F8766D"/>
<circle cx="943.5" cy="2091.35" r="7.2" fill="#F8766D"/>
<line x1="942.3" y1="2141.05" x2="980.9" y2="2141.05" stroke="#F8766D" stroke-width="4.7"/>
<circle cx="948.1" cy="2141.05" r="7.2" fill="#F8766D"/>
<circle cx="942.3" cy="2190.75" r="7.2" fill="#F8766D"/>
<circle cx="942.3" cy="2240.45" r="7.2" fill="#F8766D"/>
<circle cx="944.7" cy="2290.15" r="7.2" fill="#F8766D"/>
<circle cx="942.3" cy="2339.85" r="7.2" fill="#F8766D"/>
<circle cx="942.3" cy="2389.55" r="7.2" fill="#F8766D"/>
<circle cx="942.3" cy="2439.25" r="7.2" fill="#F8766D"/>
<circle cx="949.4" cy="2488.95" r="7.2" fill="#F8766D"/>
<line x1="942.3" y1="2538.65" x2="1070.8" y2="2538.65" stroke="#F8766D" stroke-width="4.7"/>
<circle cx="993.3" cy="2538.65" r="7.2" fill="#F8766D"/>
<circle cx="948.1" cy="2060.35" r="7.2" fill="#00BFC4"/>
<circle cx="945.9" cy="2110.05" r="7.2" fill="#00BFC4"/>
<circle cx="942.3" cy="2159.75" r="7.2" fill="#00BFC4"/>
<line x1="945.9" y1="2209.45" x2="980.9" y2="2209.45" stroke="#00BFC4" stroke-width="4.7"/>
<circle cx="957.4" cy="2209.45" r="7.2" fill="#00BFC4"/>
<circle cx="942.3" cy="2259.15" r="7.2" fill="#00BFC4"/>
<circle cx="942.3" cy="2308.85" r="7.2" fill="#00BFC4"/>
<circle cx="942.3" cy="2358.55" r="7.2" fill="#00BFC4"/>
<circle cx="942.3" cy="2408.25" r="7.2" fill="#00BFC4"/>
<circle cx="942.3" cy="2457.95" r="7.2" fill="#00BFC4"/>
<circle cx="947.0" cy="2507.65" r="7.2" fill="#00BFC4"/>
<circle cx="942.3" cy="2557.35" r="7.2" fill="#00BFC4"/>
<line x1="358.3" y1="2578.0" x2="358.3" y2="2588.7" stroke="#111" stroke-width="1.3"/>
<line x1="474.1" y1="2578.0" x2="474.1" y2="2588.7" stroke="#111" stroke-width="1.3"/>
<line x1="589.9" y1="2578.0" x2="589.9" y2="2588.7" stroke="#111" stroke-width="1.3"/>
<line x1="705.7" y1="2578.0" x2="705.7" y2="2588.7" stroke="#111" stroke-width="1.3"/>
<line x1="821.5" y1="2578.0" x2="821.5" y2="2588.7" stroke="#111" stroke-width="1.3"/>
<line x1="942.3" y1="2578.0" x2="942.3" y2="2588.7" stroke="#111" stroke-width="1.3"/>
<line x1="1058.1" y1="2578.0" x2="1058.1" y2="2588.7" stroke="#111" stroke-width="1.3"/>
<line x1="1173.9" y1="2578.0" x2="1173.9" y2="2588.7" stroke="#111" stroke-width="1.3"/>
<line x1="1289.7" y1="2578.0" x2="1289.7" y2="2588.7" stroke="#111" stroke-width="1.3"/>
<line x1="1405.5" y1="2578.0" x2="1405.5" y2="2588.7" stroke="#111" stroke-width="1.3"/>
</svg>
</body></html>
